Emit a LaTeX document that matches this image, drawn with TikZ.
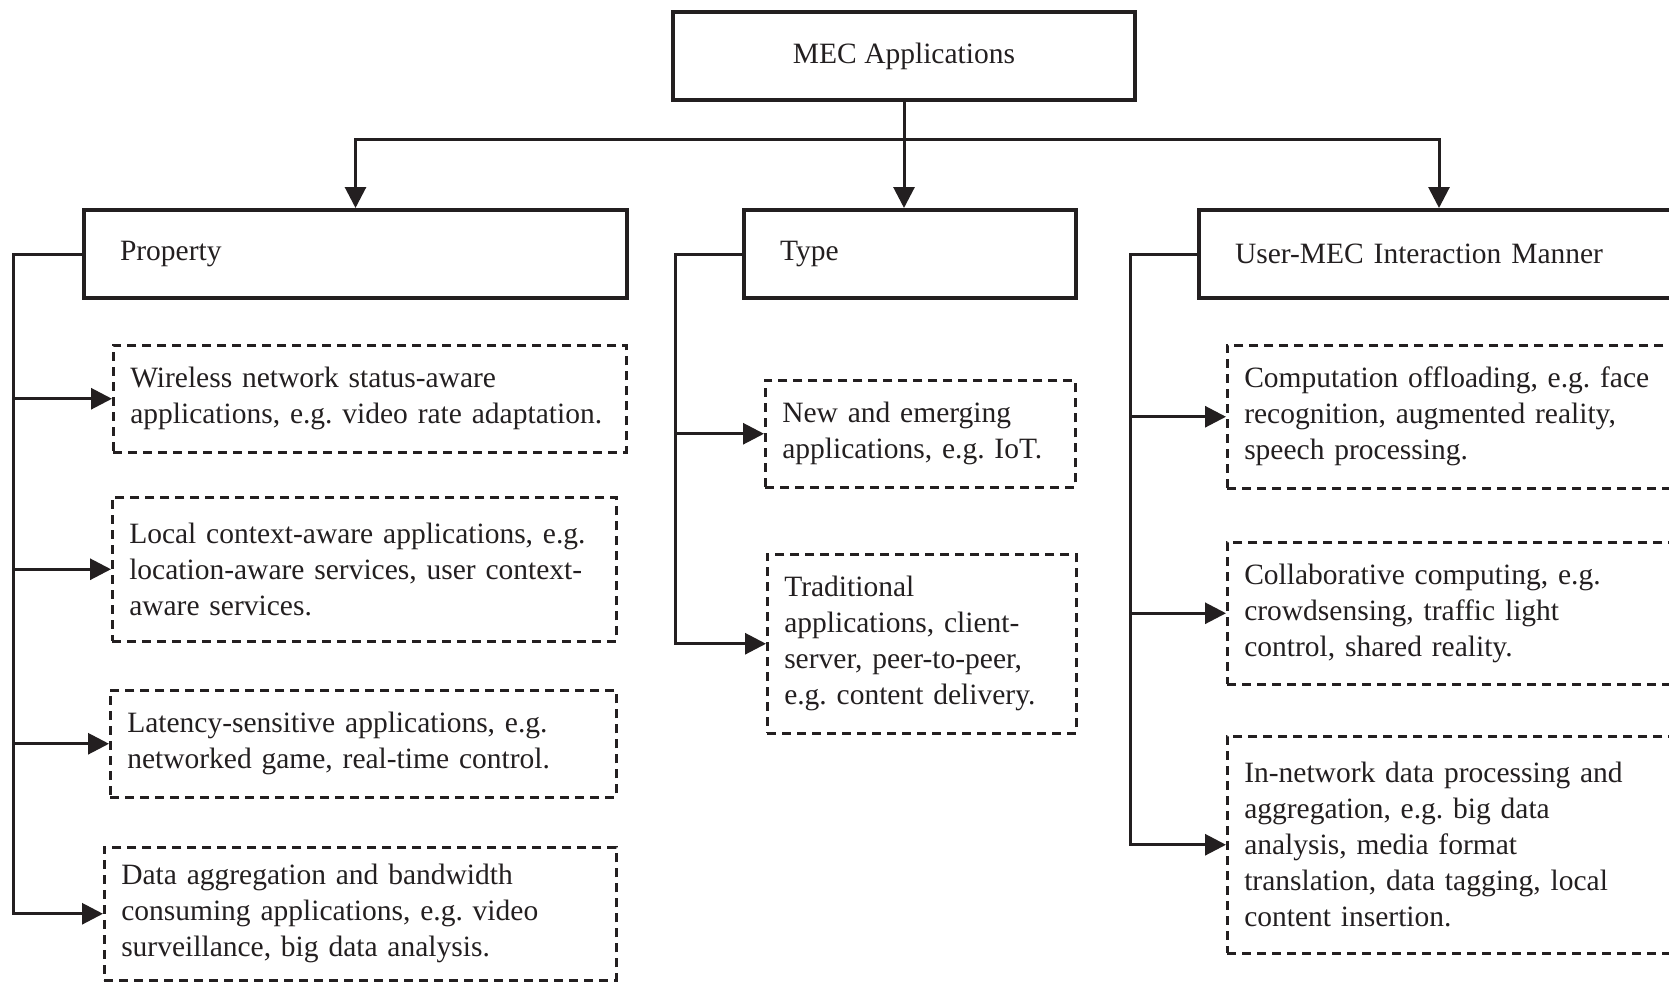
\documentclass[tikz,border=0pt]{standalone}
\usepackage{fontspec}
\setmainfont{Liberation Serif}
\usetikzlibrary{arrows.meta}
\definecolor{ink}{RGB}{35,31,32}
\begin{document}
\begin{tikzpicture}[x=1pt,y=-1pt,
  every node/.style={font=\fontsize{29.5}{36}\selectfont\frenchspacing, text=ink},
  solidbox/.style={draw=ink, line width=4pt, rectangle, minimum height=88pt, inner xsep=36pt, inner ysep=0pt, align=left, anchor=north west},
  dbox/.style={draw=ink, line width=2.5pt, dash pattern=on 9pt off 6pt, rectangle, inner xsep=17pt, inner ysep=0pt, align=left, anchor=north west},
  conn/.style={draw=ink, line width=3pt},
  arr/.style={conn, -{Triangle[length=21pt,width=21pt]}}
]
\useasboundingbox (0,0) rectangle (1669,982);
\clip (0,0) rectangle (1669,982);
\hyphenpenalty=10000
% solid boxes
\node[solidbox, minimum width=462pt, align=center] (mec) at (671,10) {MEC Applications};
\node[solidbox, text width=471pt] (prop) at (82,208) {Property};
\node[solidbox, text width=260pt] (type) at (742,208) {Type};
\node[solidbox, text width=408pt] (umec) at (1197,208) {User-MEC Interaction Manner};
% property boxes
\node[dbox, text width=479pt, minimum height=107pt] (p1) at (112,344) {Wireless network status-aware\\\mbox{applications, e.g. video rate adaptation.}};
\node[dbox, text width=470pt, minimum height=144pt] (p2) at (111,496) {Local context-aware applications, e.g.\\location-aware services, user context-\\aware services.};
\node[dbox, text width=472pt, minimum height=107pt] (p3) at (109,689) {Latency-sensitive applications, e.g.\\networked game, real-time control.};
\node[dbox, text width=478pt, minimum height=133pt] (p4) at (103,846) {Data aggregation and bandwidth\\consuming applications, e.g. video\\surveillance, big data analysis.};
% type boxes
\node[dbox, text width=276pt, minimum height=107pt] (t1) at (764,379) {New and emerging\\applications, e.g. IoT.};
\node[dbox, text width=275pt, minimum height=179pt] (t2) at (766,553) {Traditional\\applications, client-\\server, peer-to-peer,\\e.g. content delivery.};
% user boxes
\node[dbox, text width=420pt, minimum height=143pt] (u1) at (1226,344) {Computation offloading, e.g. face\\recognition, augmented reality,\\speech processing.};
\node[dbox, text width=420pt, minimum height=142pt] (u2) at (1226,541) {Collaborative computing, e.g.\\crowdsensing, traffic light\\control, shared reality.};
\node[dbox, text width=420pt, minimum height=217pt] (u3) at (1226,735) {In-network data processing and\\aggregation, e.g. big data\\analysis, media format\\translation, data tagging, local\\content insertion.};
% top connectors
\coordinate (hy) at (0,139);
\coordinate (hub) at (mec.south |- hy);
\draw[arr] (mec.south) -- (mec.south |- type.north);
\draw[arr] (hub) -| (prop.north);
\draw[arr] (hub) -| (umec.north);
% property bracket
\coordinate (lp) at (13,0);
\draw[arr] (prop.west) -- (prop.west -| lp) |- (p4.west);
\foreach \n in {p1,p2,p3} \draw[arr] (lp |- \n.west) -- (\n.west);
% type bracket
\coordinate (lt) at (675,0);
\draw[arr] (type.west) -- (type.west -| lt) |- (t2.west);
\draw[arr] (lt |- t1.west) -- (t1.west);
% user bracket
\coordinate (lu) at (1130,0);
\draw[arr] (umec.west) -- (umec.west -| lu) |- (u3.west);
\foreach \n in {u1,u2} \draw[arr] (lu |- \n.west) -- (\n.west);
\end{tikzpicture}
\end{document}
